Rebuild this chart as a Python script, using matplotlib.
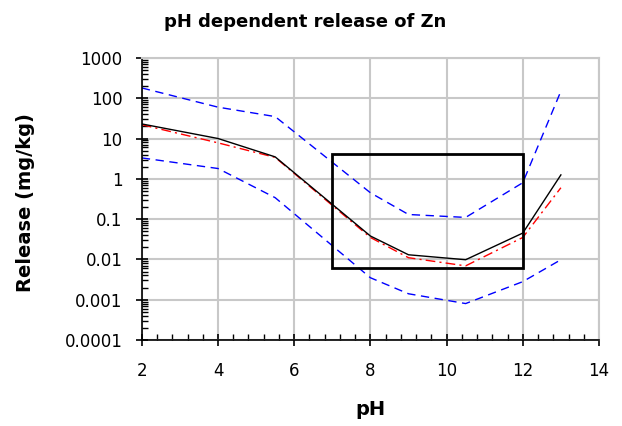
import numpy as np
import matplotlib.pyplot as plt
from matplotlib.ticker import FixedLocator, LogLocator, MultipleLocator, NullFormatter
from matplotlib.patches import Rectangle

ph = [2, 4, 5.5, 8, 9, 10.5, 12, 13]
zn_median = [23, 10, 3.5, 0.038, 0.013, 0.0098, 0.045, 1.25]
zn_mean = [22, 7.8, 3.4, 0.035, 0.011, 0.0069, 0.035, 0.6]
zn_upper = [180, 60, 35, 0.45, 0.13, 0.11, 0.8, 150]
zn_lower = [3.3, 1.8, 0.34, 0.0035, 0.0014, 0.0008, 0.0028, 0.0098]

box_ph = (7, 12)
box_rel = (0.0062, 4.2)

yticks = [0.0001, 0.001, 0.01, 0.1, 1, 10, 100, 1000]
ylabels = ['0.0001', '0.001', '0.01', '0.1', '1', '10', '100', '1000']

fig = plt.figure(figsize=(6.22, 4.26), dpi=100)
ax = fig.add_axes([0.228, 0.202, 0.735, 0.662])

ax.plot(ph, zn_upper, color='#0000ff', lw=1, dashes=(6, 4))
ax.plot(ph, zn_lower, color='#0000ff', lw=1, dashes=(6, 4))
ax.plot(ph, zn_mean, color='#ff0000', lw=1, dashes=(7, 3, 1.5, 3))
ax.plot(ph, zn_median, color='black', lw=1)

ax.add_patch(Rectangle((box_ph[0], box_rel[0]), box_ph[1] - box_ph[0],
                       box_rel[1] - box_rel[0], fill=False, ec='black', lw=2, zorder=5))

ax.set_yscale('log')
ax.set_ylim(0.0001, 1000)
ax.set_xlim(2, 14)
ax.yaxis.set_major_locator(FixedLocator(yticks))
ax.set_yticklabels(ylabels)
ax.yaxis.set_minor_locator(LogLocator(base=10, subs=np.arange(2, 10)))
ax.yaxis.set_minor_formatter(NullFormatter())
ax.xaxis.set_major_locator(MultipleLocator(2))
ax.xaxis.set_minor_locator(MultipleLocator(0.4))

ax.grid(True, which='major', color='#c8c8c8', lw=1.5)
ax.set_axisbelow(True)
for s in ['top', 'right']:
    ax.spines[s].set_color('#c8c8c8')
    ax.spines[s].set_linewidth(1.5)
for s in ['left', 'bottom']:
    ax.spines[s].set_linewidth(1.2)

ax.tick_params(which='major', direction='inout', length=8, width=1.2, labelsize=12)
ax.tick_params(which='minor', direction='in', length=4, width=1)
ax.tick_params(axis='x', pad=12)
ax.tick_params(axis='y', pad=10)

fig.text(305.5 / 622, 1 - 22 / 426, 'pH dependent release of Zn', fontsize=13,
         fontweight='bold', ha='center', va='center')
ax.set_xlabel('pH', fontsize=14, fontweight='bold', labelpad=14)
fig.text(26 / 622, 1 - 203 / 426, 'Release (mg/kg)', fontsize=14, fontweight='bold',
         rotation=90, ha='center', va='center')

fig.savefig('out.png', dpi=100)
